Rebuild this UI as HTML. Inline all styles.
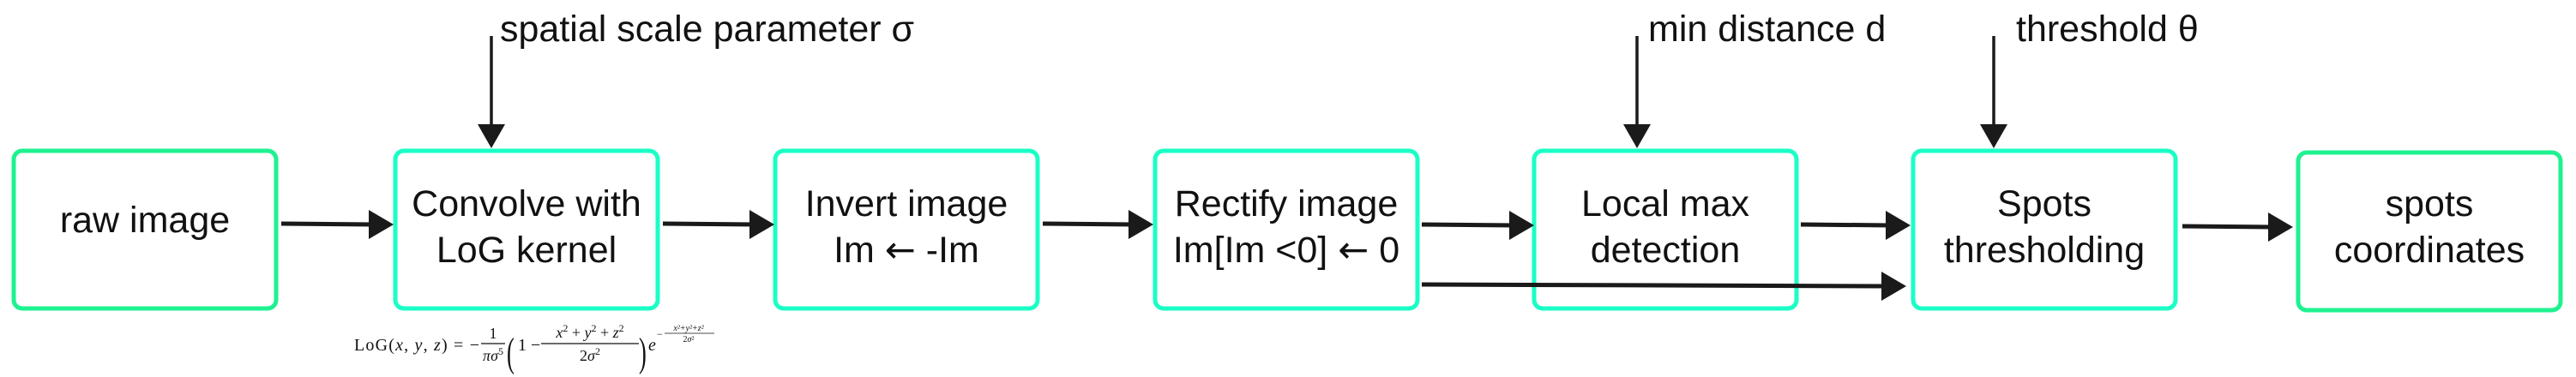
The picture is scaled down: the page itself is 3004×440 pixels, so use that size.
<!DOCTYPE html>
<html><head><meta charset="utf-8"><style>
html,body{margin:0;padding:0;background:#fff;}
svg{display:block;}
.t{font-family:"Liberation Sans",sans-serif;font-size:43px;fill:#111;}
.ar{font-family:"DejaVu Sans",sans-serif;}
.m{font-family:"Liberation Serif",serif;fill:#111;}
</style></head><body>
<svg width="3004" height="440" viewBox="0 0 3004 440" xmlns="http://www.w3.org/2000/svg">
<g fill="none" stroke-width="5">
<rect x="16" y="176" width="306" height="184" rx="10" stroke="#1ef290"/>
<rect x="461" y="176" width="306" height="184" rx="10" stroke="#1affc6"/>
<rect x="904" y="176" width="306" height="184" rx="10" stroke="#1affc6"/>
<rect x="1347" y="176" width="306" height="184" rx="10" stroke="#1affc6"/>
<rect x="1789" y="176" width="306" height="184" rx="10" stroke="#1affc6"/>
<rect x="2231" y="176" width="306" height="184" rx="10" stroke="#1affc6"/>
<rect x="2680" y="178" width="306" height="184" rx="10" stroke="#1ef290"/>
</g>
<g stroke="#1a1a1a" stroke-width="5" fill="none">
<line x1="328" y1="261" x2="436" y2="262"/>
<line x1="773" y1="261" x2="880" y2="262"/>
<line x1="1216" y1="261" x2="1322" y2="262"/>
<line x1="1658" y1="262" x2="1766" y2="263"/>
<line x1="1658" y1="332" x2="2200" y2="334"/>
<line x1="2100" y1="262" x2="2205" y2="263"/>
<line x1="2545" y1="264" x2="2652" y2="265"/>
<line x1="573" y1="42" x2="573" y2="150" stroke-width="3.5"/>
<line x1="1909" y1="42" x2="1909" y2="150" stroke-width="3.5"/>
<line x1="2325" y1="42" x2="2325" y2="150" stroke-width="3.5"/>
</g>
<g fill="#1a1a1a">
<polygon points="430,245 459,262 430,279"/>
<polygon points="874,245 903,262 874,279"/>
<polygon points="1316,245 1345,262 1316,279"/>
<polygon points="1760,246 1789,263 1760,280"/>
<polygon points="2194,317 2223,334 2194,351"/>
<polygon points="2199,246 2228,263 2199,280"/>
<polygon points="2645,248 2674,265 2645,282"/>
<polygon points="557,145 589,145 573,173"/>
<polygon points="1893,145 1925,145 1909,173"/>
<polygon points="2309,145 2341,145 2325,173"/>
</g>
<g class="t" text-anchor="middle">
<text x="169" y="271">raw image</text>
<text x="614" y="252">Convolve with</text>
<text x="614" y="306">LoG kernel</text>
<text x="1057" y="252">Invert image</text>
<text x="1057" y="306">Im <tspan class="ar">←</tspan> -Im</text>
<text x="1500" y="252">Rectify image</text>
<text x="1500" y="306">Im[Im &lt;0] <tspan class="ar">←</tspan> 0</text>
<text x="1942" y="252">Local max</text>
<text x="1942" y="306">detection</text>
<text x="2384" y="252">Spots</text>
<text x="2384" y="306">thresholding</text>
<text x="2833" y="252">spots</text>
<text x="2833" y="306">coordinates</text>
</g>
<g class="t">
<text x="583" y="48">spatial scale parameter σ</text>
<text x="1922" y="48">min distance d</text>
<text x="2351" y="48">threshold θ</text>
</g>
<g class="m">
<text x="413" y="409" font-size="20" textLength="146">LoG(<tspan font-style="italic">x</tspan>, <tspan font-style="italic">y</tspan>, <tspan font-style="italic">z</tspan>) = −</text>
<text x="575" y="395" font-size="18" text-anchor="middle">1</text>
<line x1="561" y1="401" x2="589" y2="401" stroke="#111" stroke-width="1.2"/>
<text x="575" y="421" font-size="18" text-anchor="middle" font-style="italic">πσ<tspan font-size="12" dy="-7" font-style="normal">5</tspan></text>
<text x="591" y="427" font-size="48" transform="translate(591 427) scale(0.55 1) translate(-591 -427)">(</text>
<text x="604" y="409" font-size="20">1 −</text>
<text x="688" y="394" font-size="18" text-anchor="middle" font-style="italic">x<tspan font-size="12" dy="-7" font-style="normal">2</tspan><tspan dy="7" font-style="normal"> + </tspan>y<tspan font-size="12" dy="-7" font-style="normal">2</tspan><tspan dy="7" font-style="normal"> + </tspan>z<tspan font-size="12" dy="-7" font-style="normal">2</tspan></text>
<line x1="631" y1="401" x2="745" y2="401" stroke="#111" stroke-width="1.2"/>
<text x="688" y="421" font-size="18" text-anchor="middle">2<tspan font-style="italic">σ</tspan><tspan font-size="12" dy="-7">2</tspan></text>
<text x="745" y="427" font-size="48" transform="translate(745 427) scale(0.55 1) translate(-745 -427)">)</text>
<text x="756" y="409" font-size="20" font-style="italic">e</text>
<text x="766" y="394" font-size="12">−</text>
<text x="803" y="386" font-size="10" text-anchor="middle" font-style="italic">x²+y²+z²</text>
<line x1="775" y1="389" x2="833" y2="389" stroke="#111" stroke-width="0.8"/>
<text x="803" y="399" font-size="10" text-anchor="middle">2<tspan font-style="italic">σ</tspan>²</text>
</g>
</svg>
</body></html>
